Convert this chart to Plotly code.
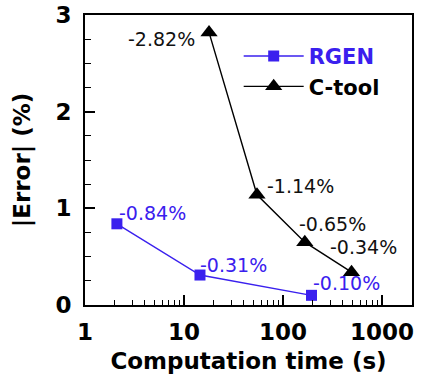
import numpy as np
import plotly.graph_objects as go

# Computation time (s) and |Error| (%) for each method
rgen_time = [2.1, 14.5, 194]
rgen_err = [0.84, 0.31, 0.10]
rgen_labels = ["-0.84%", "-0.31%", "-0.10%"]

ctool_time = [17.9, 54.6, 166, 492]
ctool_err = [2.82, 1.14, 0.65, 0.34]
ctool_labels = ["-2.82%", "-1.14%", "-0.65%", "-0.34%"]

BLUE = "#3a20ee"
FONT = "DejaVu Sans"

fig = go.Figure()
fig.add_trace(go.Scatter(
    x=rgen_time, y=rgen_err, mode="lines+markers",
    name=f"<span style='color:{BLUE}'>RGEN</span>",
    line=dict(color=BLUE, width=1.4),
    marker=dict(symbol="square", size=11, color=BLUE),
))
fig.add_trace(go.Scatter(
    x=ctool_time, y=ctool_err, mode="lines+markers", name="C-tool",
    line=dict(color="black", width=1.4),
    marker=dict(symbol="triangle-up", size=15, color="black"),
))

# value labels next to each point (pixel offsets from the marker)
rgen_off = [(0, 11, "left"), (-2, 10, "left"), (0, 12, "left")]
ctool_off = [(-12, -7, "right"), (8, 9, "left"), (-8, 18, "left"), (-24, 25, "left")]

for xs, ys, labs, offs, col in [
    (rgen_time, rgen_err, rgen_labels, rgen_off, BLUE),
    (ctool_time, ctool_err, ctool_labels, ctool_off, "#111111"),
]:
    for xv, yv, lab, (dx, dy, anc) in zip(xs, ys, labs, offs):
        fig.add_annotation(
            x=np.log10(xv), y=yv, xref="x", yref="y", text=lab,
            showarrow=False, xanchor=anc, yanchor="middle",
            xshift=dx, yshift=dy,
            font=dict(family=FONT, size=19, color=col),
        )

axis_common = dict(
    showline=True, linecolor="black", linewidth=2, mirror=True,
    ticks="inside", tickcolor="black", tickwidth=1.5, ticklen=10,
    showgrid=False, zeroline=False, automargin=False,
    tickfont=dict(family=FONT, size=23, color="black", weight="bold"),
)

fig.update_xaxes(
    type="log", range=[0, 3.303],
    tickvals=[1, 10, 100, 1000], ticktext=["1", "10", "100", "1000"],
    ticklabelstandoff=5,
    minor=dict(ticks="inside", ticklen=5, tickcolor="black", tickwidth=1.2,
               tickvals=[m * d for d in (1, 10, 100, 1000) for m in range(2, 10)]),
    title=dict(text="Computation time (s)", standoff=9,
               font=dict(family=FONT, size=23, color="black", weight="bold")),
    **axis_common,
)
fig.update_yaxes(
    range=[0, 3], tickvals=[0, 1, 2, 3],
    ticklabelstandoff=7,
    minor=dict(ticks="inside", ticklen=6, tickcolor="black", tickwidth=1.2, dtick=0.25),
    title=dict(text="|Error| (%)", standoff=18,
               font=dict(family=FONT, size=23, color="black", weight="bold")),
    **axis_common,
)

fig.update_layout(
    width=424, height=376,
    margin=dict(l=85, r=12, t=15, b=71),
    paper_bgcolor="white", plot_bgcolor="white",
    showlegend=True,
    legend=dict(
        x=0.47, y=0.928, xanchor="left", yanchor="top",
        bgcolor="rgba(0,0,0,0)", itemwidth=60, tracegroupgap=0,
        font=dict(family=FONT, size=21, color="black", weight="bold"),
    ),
)

fig.write_html("out.html")
